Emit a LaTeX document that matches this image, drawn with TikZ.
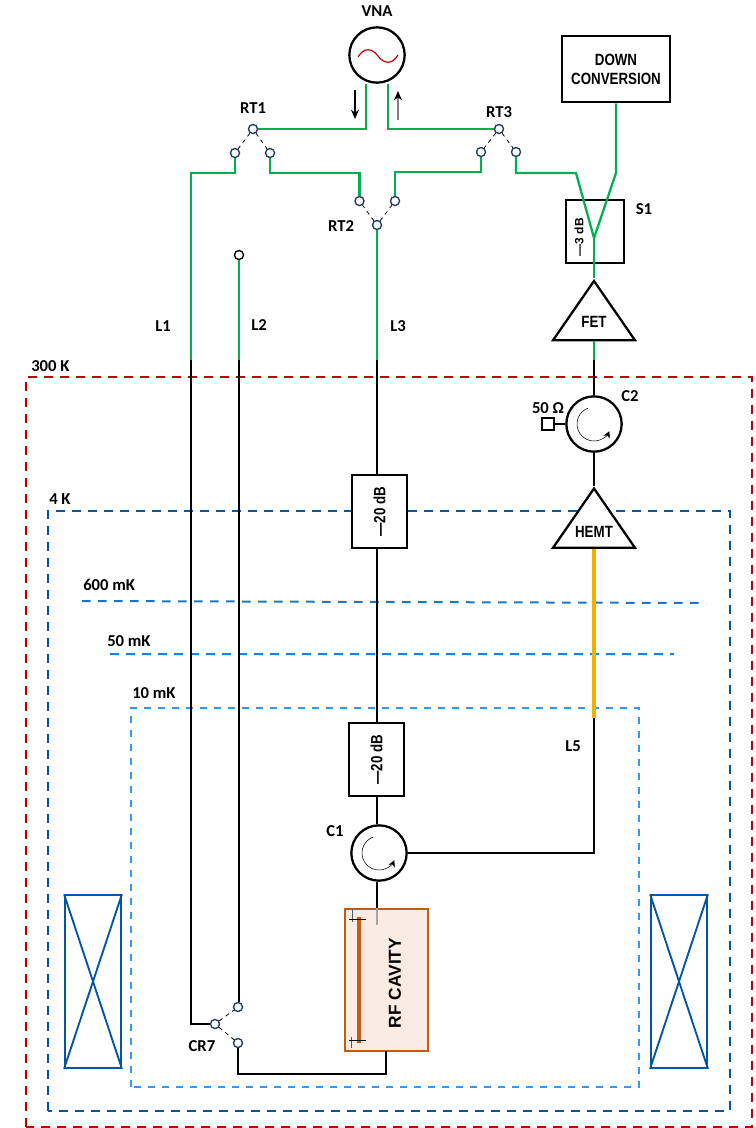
\documentclass[tikz,border=0pt]{standalone}
\usepackage{fontspec}
\setmainfont{Carlito}
\newfontfamily\narrowfont[FakeStretch=0.82]{Liberation Sans}
\newfontfamily\armfont{Liberation Sans}
\usetikzlibrary{shapes.geometric,arrows.meta,calc}
\definecolor{rfgreen}{HTML}{00B050}
\definecolor{stagered}{HTML}{C00000}
\definecolor{stageblue}{HTML}{0056A6}
\definecolor{midblue}{HTML}{1F74C8}
\definecolor{coldblue}{HTML}{0A84F5}
\definecolor{baseblue}{HTML}{3399F5}
\definecolor{portblue}{HTML}{1F3864}
\definecolor{cavorange}{HTML}{C55A11}
\definecolor{cavfill}{HTML}{FBECE3}
\definecolor{hotyellow}{HTML}{F2B000}
\tikzset{
  wire/.style={line width=1.7pt, line join=miter},
  rfwire/.style={wire, draw=rfgreen},
  swlink/.style={line width=0.6pt, dashed, dash pattern=on 3pt off 3pt},
  port/.style={circle, draw=portblue, fill=white, line width=1pt, minimum size=6.8pt, inner sep=0pt},
  blackport/.style={port, draw=black},
  tag/.style={font=\bfseries\fontsize{12.5}{13}\selectfont, inner sep=0pt},
  boxtext/.style={font=\narrowfont\bfseries\fontsize{12.2}{14.3}\selectfont, inner sep=0pt, align=center},
  attbox/.style={draw, fill=white, line width=1.7pt, minimum width=41pt, minimum height=55pt, inner sep=0pt},
  circulator/.style={circle, draw, fill=white, line width=1.7pt, minimum size=41.5pt, inner sep=0pt},
  amptri/.style={isosceles triangle, isosceles triangle stretches, shape border rotate=90, draw,
    fill=white, line width=1.7pt, minimum width=61.5pt, minimum height=44.5pt, inner sep=0pt, anchor=apex},
  coil/.style={draw=stageblue, line width=1.4pt, minimum width=42pt, minimum height=129.5pt, inner sep=0pt},
  stage/.style={line width=1.5pt, dash pattern=on 6.5pt off 5.5pt},
  spin/.style={line width=0.4pt, -{Stealth[length=5pt,width=5pt]}}
}
\begin{document}
\begin{tikzpicture}[x=0.75pt, y=-0.75pt]
  \def\rc{17}     % radius of the arrow inside a circulator
  \useasboundingbox (0,0) rectangle (756,1128);
  % temperature stages
  \draw[stage, draw=stagered] (26,1127) -- (26,377) -- (752,377) -- (752,1127) -- cycle;
  \draw[stage, draw=stageblue] (48,1111) -- (48,511) -- (730,511) -- (730,1111) -- cycle;
  \draw[stage, draw=midblue] (82,601) -- (706,603);
  \draw[stage, draw=coldblue] (110,654) -- (674,654);
  \draw[stage, draw=baseblue, dash pattern=on 5.5pt off 5pt] (131,1087) -- (131,708) -- (639,708) -- (639,1087) -- cycle;
  \node[tag, anchor=west] (t300) at (31,366) {300 K};
  \node[tag, anchor=west] (t4) at (49,499) {4 K};
  \node[tag, anchor=west] (t600) at (83,585) {600 mK};
  \node[tag, anchor=west] (t50) at (107,641) {50 mK};
  \node[tag, anchor=west] (t10) at (132,693) {10 mK};
  % magnet coils
  \node[coil] (coilL) at (93,981.5) {};
  \draw[draw=stageblue, line width=1.4pt] (coilL.north west) -- (coilL.south east) (coilL.north east) -- (coilL.south west);
  \node[coil] (coilR) at (679,981.5) {};
  \draw[draw=stageblue, line width=1.4pt] (coilR.north west) -- (coilR.south east) (coilR.north east) -- (coilR.south west);
  % instruments
  \node[circulator] (vna) at (377,55) {};
  \draw[draw=stagered, line width=0.9pt] (358,57) .. controls (364,47) and (372,48) .. (378,56) .. controls (384,64) and (392,65) .. (398,55);
  \node[tag] (lvna) at (377,11) {VNA};
  \node[draw, line width=1.7pt, minimum width=81pt, minimum height=50pt, inner sep=0pt, boxtext] (down) at (616,69) {DOWN\\CONVERSION};
  \node[draw, fill=white, line width=1.7pt, minimum width=43.5pt, minimum height=47pt, inner sep=0pt] (sone) at (595,231.5) {};
  \node[boxtext, rotate=90, font=\armfont\bfseries\fontsize{9}{10}\selectfont] (lsone) at (579,237) {—3 dB};
  \node[tag] (lsonename) at (644,209) {S1};
  % room temperature switches
  \node[port] (rtoneT) at (253,129) {};
  \node[port] (rtoneL) at (235,153) {};
  \node[port] (rtoneR) at (270,153) {};
  \node[port] (rttwoL) at (359.5,201) {};
  \node[port] (rttwoR) at (395,201) {};
  \node[port] (rttwoB) at (377,225) {};
  \node[port] (rtthreeT) at (499,129) {};
  \node[port] (rtthreeL) at (481,152) {};
  \node[port] (rtthreeR) at (516,152) {};
  \node[tag] (lrtone) at (253,108) {RT1};
  \node[tag] (lrttwo) at (341,226) {RT2};
  \node[tag] (lrtthree) at (499,112) {RT3};
  \draw[swlink] (rtoneT) -- (rtoneL) (rtoneT) -- (rtoneR);
  \draw[swlink] (rttwoB) -- (rttwoL) (rttwoB) -- (rttwoR);
  \draw[swlink] (rtthreeT) -- (rtthreeL) (rtthreeT) -- (rtthreeR);
  % cold switch
  \node[port] (crC) at (215,1024) {};
  \node[port] (crU) at (238,1007) {};
  \node[port] (crD) at (238,1043) {};
  \node[tag] (lcr) at (202,1046) {CR7};
  \draw[swlink] (crC) -- (crU) (crC) -- (crD);
  % line ends
  \node[blackport] (ltwoT) at (239,255) {};
  \coordinate (lone) at (191,360);
  \coordinate (ltwo) at (239,360);
  \coordinate (lthree) at (377,360);
  \coordinate (fetout) at (594,360);
  \coordinate (lfive) at (594,718);
  \node[tag] (llone) at (163,326) {L1};
  \node[tag] (lltwo) at (259,325) {L2};
  \node[tag] (llthree) at (398,326) {L3};
  \node[tag] (llfive) at (573,746) {L5};
  % amplifiers
  \node[amptri] (fet) at (594,278) {};
  \coordinate (fetbase) at ($(fet.left corner)!0.5!(fet.right corner)$);
  \node[boxtext] (lfet) at (594,322) {FET};
  \node[amptri] (hemt) at (594,485.5) {};
  \coordinate (hemtbase) at ($(hemt.left corner)!0.5!(hemt.right corner)$);
  \node[boxtext] (lhemt) at (594,532) {HEMT};
  % circulators
  \node[circulator] (ctwo) at (594,424) {};
  \draw[spin] ($(ctwo)+(250:\rc)$) arc[start angle=250, end angle=25, radius=\rc];
  \node[tag] (lctwo) at (630,396) {C2};
  \node[draw, line width=1.4pt, minimum size=8.5pt, inner sep=0pt] (load) at (548,424) {};
  \node[tag] (lload) at (548,408) {50 Ω};
  \node[circulator] (cone) at (379,853) {};
  \draw[spin] ($(cone)+(250:\rc)$) arc[start angle=250, end angle=25, radius=\rc];
  \node[tag] (lcone) at (335,831) {C1};
  % attenuators
  \node[attbox] (attone) at (379.5,511.5) {};
  \node[boxtext, rotate=90] (lattone) at (379.5,511.5) {—20 dB};
  \node[attbox] (atttwo) at (376.5,759.5) {};
  \node[boxtext, rotate=90] (latttwo) at (376.5,759.5) {—20 dB};
  % cavity
  \node[draw=cavorange, fill=cavfill, line width=1.5pt, minimum width=62pt, minimum height=106.5pt, inner sep=0pt] (cavity) at (386.5,980) {};
  \node[rotate=90, font=\armfont\bfseries\fontsize{13}{15}\selectfont, inner sep=0pt] (lcavity) at (395,983) {RF CAVITY};
  \draw[draw=cavorange, line width=3.6pt] (359,917) -- (359,1043);
  \draw[draw=black!65, line width=0.5pt] (352,909) -- (352,922) (351,1037) -- (351,1048);
  \draw[line width=0.5pt] (349,919) -- (366,919) (349,1040) -- (366,1040);
  \draw[draw=black!35, line width=1.5pt] (lthree|-cavity.north) -- ($(lthree|-cavity.north)+(0,17)$);
  % green lines
  \coordinate (rttwoLup) at (359.5,173);
  \coordinate (rtthreeLup) at (481,172);
  \coordinate (split) at (594,238);
  \draw[rfwire] (vna.south-|366,0) -- (366,129) -- (rtoneT);
  \draw[rfwire] (vna.south-|388,0) -- (388,129) -- (rtthreeT);
  \draw[rfwire] (rtoneL) |- (191,173) -- (lone);
  \draw[rfwire] (rtoneR) |- (rttwoLup) -- (rttwoL);
  \draw[rfwire] (rttwoR) |- (rtthreeLup) -- (rtthreeL);
  \draw[rfwire] (rttwoB) -- (lthree);
  \draw[rfwire] (ltwoT) -- (ltwo);
  \draw[rfwire] (rtthreeR) |- (576,173) -- (split);
  \draw[rfwire] (down.south) -- (616,173) -- (split);
  \draw[rfwire] (split) -- (fet.apex);
  \draw[rfwire] (fetbase) -- (fetout);
  % cold lines
  \draw[wire] (lone) |- (crC);
  \draw[wire] (ltwo) -- (ltwo|-crU.north);
  \draw[wire] (lthree) -- (lthree|-attone.north);
  \draw[wire] (lthree|-attone.south) -- (lthree|-atttwo.north);
  \draw[wire] (lthree|-atttwo.south) -- (lthree|-cone.north);
  \draw[wire] (lthree|-cone.south) -- (lthree|-cavity.north);
  \draw[wire] (fetout) -- (ctwo.north);
  \draw[wire] (ctwo.south) -- (hemt.apex);
  \draw[wire] (load.east) -- (ctwo.west);
  \draw[wire, draw=hotyellow, line width=3.2pt] (hemtbase) -- (lfive);
  \draw[wire] (lfive) |- (cone.east);
  \draw[wire] (crD) |- (386,1074) -- (386,1051);
  % signal arrows
  \coordinate (indn) at (355,90);
  \coordinate (inup) at (398,120);
  \draw[line width=0.8pt, -{Stealth[length=7pt,width=6pt]}] (indn) -- ++(0,29);
  \draw[line width=0.8pt, draw=black!50, -{Stealth[length=7pt,width=6pt,color=black]}] (inup) -- ++(0,-29);
\end{tikzpicture}
\end{document}
